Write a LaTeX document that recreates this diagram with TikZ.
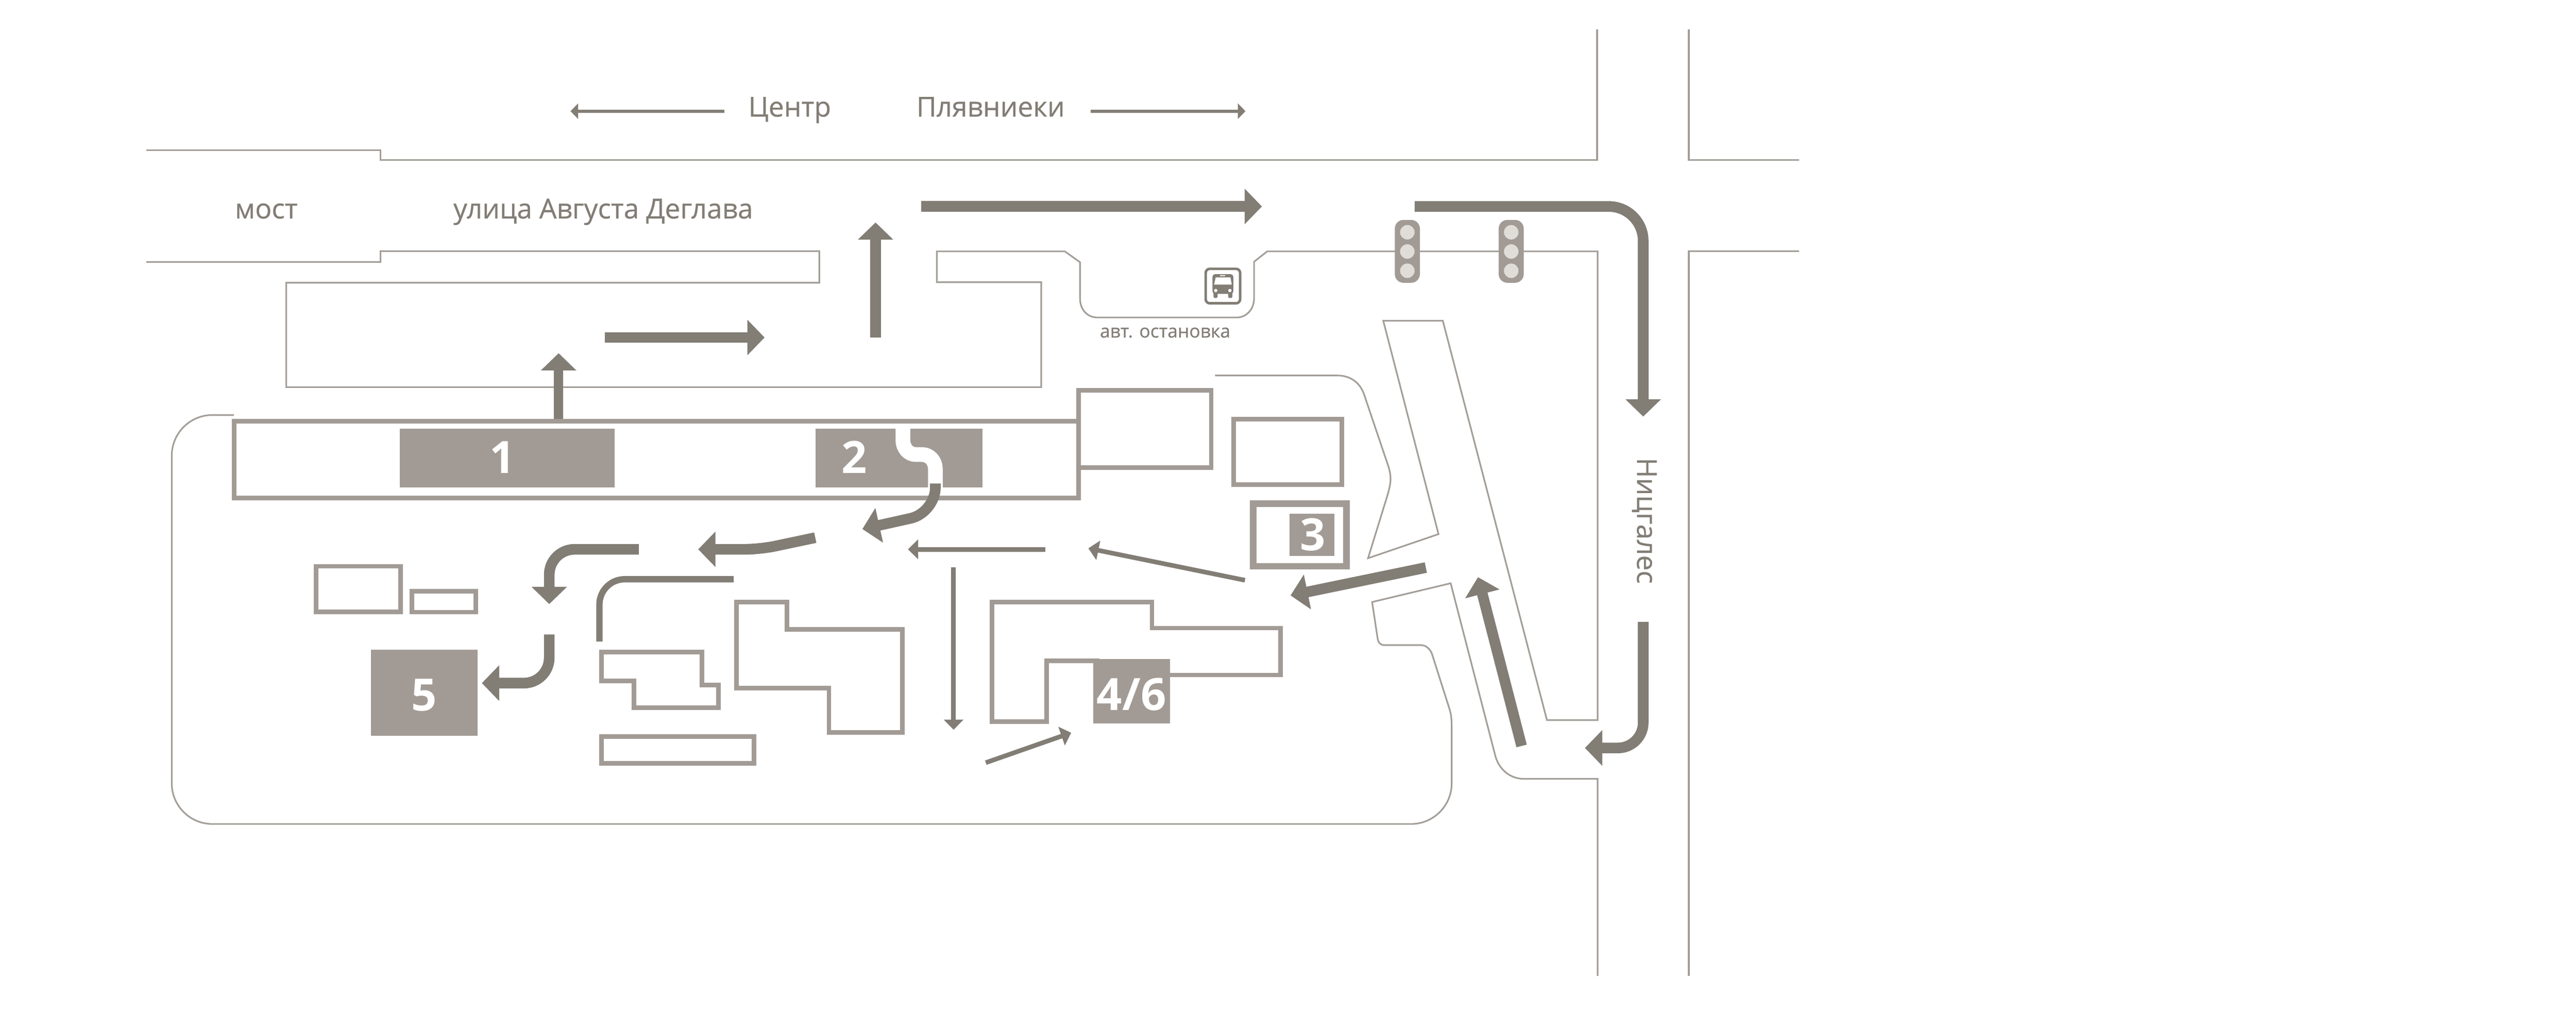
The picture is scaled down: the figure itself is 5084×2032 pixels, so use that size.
\documentclass[tikz,border=0pt]{standalone}
\usepackage{fontspec}
\setmainfont{Open Sans}
\newfontfamily\labelfont[FakeBold=0.5]{Open Sans}
\usetikzlibrary{arrows.meta}
\definecolor{road}{HTML}{A39E98}
\definecolor{bld}{HTML}{A29B95}
\definecolor{arr}{HTML}{827D75}
\definecolor{lamp}{HTML}{E0DDD8}
\tikzset{
  roadline/.style={draw=road,line width=0.032cm,fill=none},
  wall/.style={draw=bld,line width=0.09cm,fill=none,miter limit=10},
  numbox/.style={fill=bld,draw=none},
  bigarrow/.style={draw=arr,line width=0.21cm,-{Triangle[length=0.34cm,width=0.68cm,fill=arr]},line join=round},
  thinarrow/.style={draw=arr,line width=0.09cm,-{Triangle[length=0.2cm,width=0.38cm,fill=arr]}},
  hairarrow/.style={draw=arr,line width=0.06cm,-{Triangle[length=0.15cm,width=0.3cm,fill=arr]}},
  lbl/.style={text=arr,inner sep=0pt,anchor=base,font=\labelfont\fontsize{15.4pt}{18pt}\selectfont},
  smalllbl/.style={text=arr,inner sep=0pt,anchor=base,font=\labelfont\fontsize{10.25pt}{12pt}\selectfont},
  numlbl/.style={text=white,inner sep=0pt,anchor=base,font=\fontsize{25pt}{30pt}\selectfont\bfseries},
  signal/.style={fill=bld,draw=none,rounded corners=0.17cm},
  lampdot/.style={fill=lamp,draw=none},
}
\begin{document}
\begin{tikzpicture}[x=0.01cm,y=-0.01cm]
\useasboundingbox (0,0) rectangle (5084,2032);
\fill[white] (0,0) rectangle (5084,2032);

% roads
\draw[roadline] (289,296) -- (751,296) -- (751,316) -- (3152,316) -- (3152,58);
\draw[roadline] (3333,58) -- (3333,316) -- (3551,316);
\draw[roadline] (3551,496) -- (3333,496) -- (3333,1926);
\draw[roadline] (289,517) -- (751,517) -- (751,495.5) -- (1617,495.5) -- (1617,558) -- (565,558) -- (565,764) -- (2055,764) -- (2055,557) -- (1849,557) -- (1849,496) -- (2101.5,496) -- (2131.5,517.5) -- (2131.5,589)
  .. controls (2131.5,610) and (2145,626.5) .. (2166,626.5) -- (2441,626.5)
  .. controls (2460,626.5) and (2475,610) .. (2475,589) -- (2475,516.5) -- (2501,496) -- (3153,496) -- (3153,1421) -- (3053,1421) -- (2847.5,633) -- (2730,633) -- (2839,1054) -- (2700,1101.5) -- (2739,975)
  .. controls (2746,950) and (2746,940) .. (2740,920) -- (2692,778)
  .. controls (2684,755) and (2665,741) .. (2640,741) -- (2398,741);
\draw[roadline] (461.5,819) -- (419,819) .. controls (375,819) and (339,855) .. (339,899) -- (339,1546)
  .. controls (339,1590) and (375,1626) .. (419,1626) -- (2785,1626)
  .. controls (2829,1626) and (2865,1590) .. (2865,1546) -- (2865,1435) .. controls (2865,1420) and (2864,1410) .. (2861,1400) -- (2826,1290)
  .. controls (2822,1280) and (2814,1273) .. (2804,1273) -- (2731,1273)
  .. controls (2725,1273) and (2720,1268) .. (2719,1261) -- (2708,1188) -- (2863,1151) -- (2951,1491)
  .. controls (2958,1518) and (2980,1537) .. (3008,1537) -- (3153,1537) -- (3153,1926);

% buildings
\draw[wall] (462.5,831.5) rectangle (2129,982.5);
\draw[wall] (2129,770) rectangle (2390.5,923);
\draw[wall] (2435,827) rectangle (2648,956.5);
\draw[wall,line width=0.13cm] (2473.5,993.5) rectangle (2657.5,1117.5);
\draw[wall] (623.5,1117.5) rectangle (790.5,1207.5);
\draw[wall] (813,1166.5) rectangle (939,1208);
\draw[wall] (1187.5,1286.5) -- (1385,1286.5) -- (1385,1352) -- (1418,1352) -- (1418,1396.5) -- (1251.5,1396.5) -- (1251.5,1343.5) -- (1187.5,1343.5) -- cycle;
\draw[wall] (1187.5,1453.5) rectangle (1488,1506);
\draw[wall] (1453.5,1188) -- (1553,1188) -- (1553,1242) -- (1781,1242) -- (1781,1445) -- (1636,1445) -- (1636,1358) -- (1453.5,1358) -- cycle;
\draw[wall] (2309,1332) -- (2527.5,1332) -- (2527.5,1239.5) -- (2273.5,1239.5) -- (2273.5,1188) -- (1958,1188) -- (1958,1424) -- (2066,1424) -- (2066,1304) -- (2170,1304);

% number boxes
\fill[numbox] (789,846) rectangle (1213,962);
\fill[numbox] (1610,846) rectangle (1939.5,962);
\draw[white,line width=0.29cm] (1782,846) -- (1782,868) .. controls (1782,885) and (1793,897) .. (1808,897) -- (1820,897) .. controls (1835,897) and (1846,910) .. (1846,925) -- (1846,962);
\fill[numbox] (2545,1014) rectangle (2633,1097);
\fill[numbox] (732,1282) rectangle (943,1452);
\fill[numbox] (2158,1300) rectangle (2309,1428);
\node[numlbl] (n1) at (992,934) {1};
\node[numlbl] (n2) at (1686,934) {2};
\node[numlbl] (n3) at (2590.6,1086) {3};
\node[numlbl] (n5) at (837,1403) {5};
\node[numlbl] (n46) at (2233,1402) {4/6};

% traffic signals
\foreach \x in {2777.5,2982.5}{
  \fill[signal] (\x-24.7,434) rectangle (\x+24.7,558);
  \foreach \y in {458.3,496.3,534.3}{\fill[lampdot] (\x,\y) circle [radius=14.3];}
}

% bus stop icon
\draw[draw=arr,line width=0.05cm,rounded corners=0.08cm] (2379.5,530.5) rectangle (2447.5,598.5);
\fill[arr,rounded corners=0.05cm] (2393,541) rectangle (2434,580);
\fill[arr,rounded corners=0.02cm] (2395,572) rectangle (2403,588);
\fill[arr,rounded corners=0.02cm] (2424,572) rectangle (2432,588);
\fill[white] (2399.3,547.3) -- (2428.3,547.3) -- (2431,561.7) -- (2396,561.7) -- cycle;
\fill[white] (2399.3,573.3) circle [radius=3.3];
\fill[white] (2427.3,573.3) circle [radius=3.3];
\fill[white] (2408,543.3) rectangle (2418,545.3);

% arrows
\draw[bigarrow,line width=0.18cm] (1102.5,827) -- (1102.5,697);
\draw[bigarrow] (1193.6,666) -- (1509,666);
\draw[bigarrow] (1728,666) -- (1728,439);
\draw[bigarrow] (1818,407.4) -- (2490.5,407.4);
\draw[bigarrow,rounded corners=0.68cm] (2792,407.4) -- (3243,407.4) -- (3243,822);
\draw[bigarrow,rounded corners=0.5cm] (3243,1227) -- (3243,1476) -- (3128,1476);
\draw[bigarrow] (3003,1472) -- (2917,1139);
\draw[bigarrow] (2814,1120) -- (2547,1175);
\draw[thinarrow] (2457,1145) -- (2148,1082);
\draw[thinarrow] (2063,1084) -- (1792,1084);
\draw[thinarrow] (1882,1119) -- (1882,1440);
\draw[thinarrow] (1945.5,1505) -- (2114,1446);
\draw[hairarrow] (1430,219.4) -- (1126,219.4);
\draw[hairarrow] (2153,219.4) -- (2458,219.4);
\draw[bigarrow,rounded corners=0.5cm] (1846,954) -- (1846,1012) -- (1702,1044);
\draw[bigarrow,rounded corners=0.3cm] (1609,1061) -- (1500,1084) -- (1378,1084);
\draw[bigarrow,rounded corners=0.5cm] (1261,1084) -- (1084,1084) -- (1084,1192);
\draw[bigarrow,rounded corners=0.5cm] (1084,1252) -- (1084,1348) -- (951,1348);
\draw[draw=arr,line width=0.125cm,rounded corners=0.5cm] (1448,1143) -- (1183,1143) -- (1183,1266);

% labels
\node[lbl] (most) at (525.5,431) {мост};
\node[lbl] (street) at (1190.5,431) {улица Августа Деглава};
\node[lbl] (centr) at (1558.5,230) {Центр};
\node[lbl] (plyav) at (1955,230) {Плявниеки};
\node[smalllbl] (stop) at (2299.5,666) {авт. остановка};
\node[lbl,rotate=-90] (nic) at (3231,1027.5) {Ницгалес};
\end{tikzpicture}
\end{document}
